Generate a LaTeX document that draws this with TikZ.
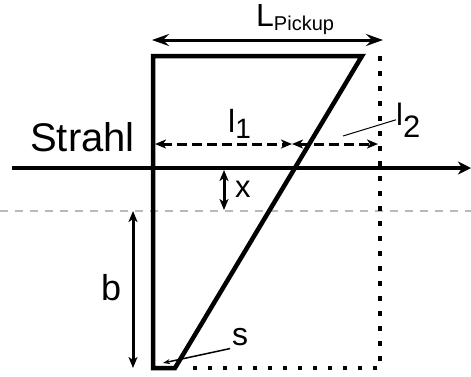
\documentclass[tikz,border=0pt]{standalone}
\usepackage{fontspec}
\setmainfont{Liberation Sans}
\usetikzlibrary{arrows.meta}
\newcommand\fsz[1]{\fontsize{#1}{#1}\selectfont}

\begin{document}
\begin{tikzpicture}[x=1pt,y=-1pt,
  frame/.style={line width=4.5pt, line join=miter},
  dots/.style={line width=4.5pt, dash pattern=on 4.5pt off 10.5pt},
  dimline/.style={line width=3pt, {Stealth[length=11pt,width=9pt,inset=3pt]}-{Stealth[length=11pt,width=9pt,inset=3pt]}},
  txt/.style={inner sep=0pt, anchor=base west}]
\useasboundingbox (0,0) rectangle (471,376);
\coordinate (tl) at (153,56);
\coordinate (tr) at (362,56);
\coordinate (bl) at (153,368);
\coordinate (br) at (175,368);
\coordinate (dtr) at (380,56);
\coordinate (dbr) at (380,368);
\coordinate (beamA) at (12,168);
\coordinate (beamB) at (471,168);
\coordinate (refA) at (0,211);
\coordinate (refB) at (471,211);
\coordinate (lpA) at (152,40);
\coordinate (lpB) at (383,40);
\coordinate (lA) at (155,144);
\coordinate (lM) at (292,144);
\coordinate (lB) at (378,144);
\coordinate (xA) at (224,170);
\coordinate (xB) at (224,210);
\coordinate (bA) at (133,211);
\coordinate (bB) at (133,368);
\coordinate (sTip) at (163,363);
\coordinate (lTwoTip) at (343,136);

\draw[gray!55, line width=1.3pt, dash pattern=on 8pt off 7pt] (refA) -- (refB);
\draw[frame] (tl) -- (tr) -- (br) -- (bl) -- cycle;
\draw[dots] (dtr) -- (dbr) -- ([xshift=14pt]br);
\draw[line width=4.5pt, -{Stealth[length=13pt,width=13pt,inset=4pt]}] (beamA) -- (beamB);
\draw[line width=3pt, {Stealth[length=17pt,width=12pt,inset=6pt]}-{Stealth[length=17pt,width=12pt,inset=6pt]}] (lpA) -- (lpB);
\draw[dimline, dash pattern=on 10pt off 5pt] (lA) -- (lM);
\draw[dimline, dash pattern=on 10pt off 5pt] (lM) -- (lB);
\draw[dimline] (xA) -- (xB);
\draw[dimline] (bA) -- (bB);

\node[txt] (strahl) at (30,151) {\fsz{40}Strahl};
\node[txt] (lpick) at (256,26) {\fsz{32}L\raisebox{-4pt}{\fsz{20}Pickup}};
\node[txt] (lone) at (228,132) {\fsz{32}l\raisebox{-6pt}{\fsz{28}1}};
\node[txt] (ltwo) at (396,125) {\fsz{31}l\raisebox{-12pt}{\fsz{31}2}};
\node[txt] (xlab) at (235,197) {\fsz{31}x};
\node[txt] (blab) at (101,300) {\fsz{36}b};
\node[txt] (slab) at (232,345) {\fsz{32}s};

\draw[line width=1pt] (lTwoTip) -- (ltwo.west);
\draw[line width=1.5pt, -{Stealth[length=7pt,width=5pt]}] ([xshift=-2pt,yshift=-12pt]slab.west) -- (sTip);
\end{tikzpicture}
\end{document}
